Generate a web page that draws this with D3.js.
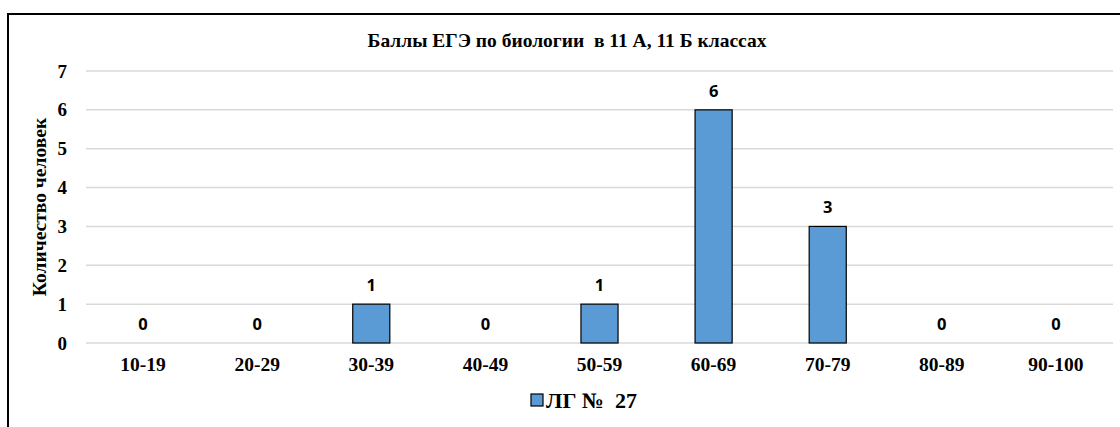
<!DOCTYPE html>
<html><head><meta charset="utf-8">
<script src="https://cdn.jsdelivr.net/npm/d3@7"></script>
<style>body{margin:0;background:#fff}svg{display:block}
.serif{font-family:"Liberation Serif","Times New Roman",serif;font-weight:bold;fill:#000}
.sans{font-family:"Open Sans","Liberation Sans",sans-serif;font-weight:bold;fill:#000}
</style>
</head><body>
<svg id="c" width="1120" height="427"></svg>
<script>
const categories = ["10-19","20-29","30-39","40-49","50-59","60-69","70-79","80-89","90-100"];
const values = [0,0,1,0,1,6,3,0,0];
const yTicks = [0,1,2,3,4,5,6,7];
const titleText = "Баллы ЕГЭ по биологии  в 11 А, 11 Б классах";
const yTitle = "Количество человек";
const seriesName = "ЛГ №  27";

const svg = d3.select("#c");

// frame
svg.append("path").attr("d","M8,430 V14 H1125").attr("fill","none").attr("stroke","#000").attr("stroke-width",2);

const x = d3.scaleBand().domain(categories).range([86,1113]).paddingInner(0.675).paddingOuter(0.3375);
const y = d3.scaleLinear().domain([0,7]).range([343,71]);

// grid
svg.append("g").selectAll("line").data(yTicks).join("line")
  .attr("x1",86).attr("x2",1113).attr("y1",d=>y(d)).attr("y2",d=>y(d))
  .attr("stroke","#d9d9d9").attr("stroke-width",1.5);

// y axis labels
const ya = svg.append("g").attr("transform","translate(67,0)")
  .call(d3.axisLeft(y).tickValues(yTicks).tickFormat(d3.format("d")).tickSize(0).tickPadding(0));
ya.select(".domain").remove();
ya.attr("font-family",null).attr("font-size",null);
ya.selectAll("text").attr("class","serif").style("font-size","19px");

// x axis labels
const xa = svg.append("g").attr("transform","translate(0,357)")
  .call(d3.axisBottom(x).tickSize(0).tickPadding(0));
xa.select(".domain").remove();
xa.attr("font-family",null).attr("font-size",null);
xa.selectAll("text").attr("class","serif").style("font-size","19.5px");

// bars
svg.append("g").selectAll("rect").data(values).join("rect")
  .attr("x",(d,i)=>x(categories[i])).attr("width",x.bandwidth())
  .attr("y",d=>y(d)).attr("height",d=>y(0)-y(d))
  .attr("fill","#5b9bd5").attr("stroke","#000").attr("stroke-width",1.2)
  .attr("display",d=>d>0?null:"none");

// value labels
svg.append("g").selectAll("text").data(values).join("text")
  .attr("class","sans").style("font-size","16.5px")
  .attr("x",(d,i)=>x(categories[i])+x.bandwidth()/2)
  .attr("y",d=>y(d)-13)
  .attr("text-anchor","middle")
  .text(d=>d);

// title
svg.append("text").attr("class","serif").style("font-size","19.5px")
  .attr("x",567).attr("y",47).attr("text-anchor","middle").style("white-space","pre").text(titleText);

// y title
svg.append("text").attr("class","serif").style("font-size","19.5px")
  .attr("transform","translate(46,207) rotate(-90)").attr("text-anchor","middle").text(yTitle);

// legend
svg.append("rect").attr("x",531).attr("y",394).attr("width",12).attr("height",12)
  .attr("fill","#5b9bd5").attr("stroke","#000").attr("stroke-width",1.2);
svg.append("text").attr("class","serif").style("font-size","22px").style("white-space","pre")
  .attr("x",546).attr("y",408).text(seriesName);
</script>
</body></html>
